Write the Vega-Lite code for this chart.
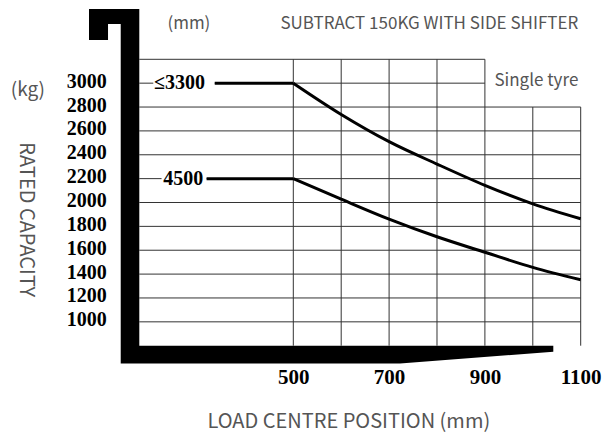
{
  "$schema": "https://vega.github.io/schema/vega-lite/v6.json",
  "autosize": {"type": "none"},
  "width": 441.4,
  "height": 286.4,
  "padding": {"left": 139.3, "top": 59.3, "right": 35.3, "bottom": 100.3},
  "background": "white",
  "config": {
    "view": {"stroke": null},
    "axis": {"grid": false, "domain": false, "ticks": false, "labelOverlap": false, "labelBound": false, "labelFlush": false}
  },
  "datasets": {
    "fork": [
      {"i": 1, "x": 73.5, "y": 3621.5},
      {"i": 2, "x": 178.5, "y": 3621.5},
      {"i": 3, "x": 178.5, "y": 800},
      {"i": 4, "x": 1042.8, "y": 800},
      {"i": 5, "x": 1042.8, "y": 749.7},
      {"i": 6, "x": 722.8, "y": 650.8},
      {"i": 7, "x": 139.7, "y": 650.8},
      {"i": 8, "x": 139.7, "y": 3495.8},
      {"i": 9, "x": 113.2, "y": 3495.8},
      {"i": 10, "x": 113.2, "y": 3361.7},
      {"i": 11, "x": 73.5, "y": 3361.7},
      {"i": 12, "x": 73.5, "y": 3621.5}
    ],
    "hgrid": [
      {"y": 3200, "x1": 178.5, "x2": 900},
      {"y": 3000, "x1": 178.5, "x2": 207.7},
      {"y": 3000, "x1": 336, "x2": 900},
      {"y": 2800, "x1": 178.5, "x2": 1100},
      {"y": 2600, "x1": 178.5, "x2": 1100},
      {"y": 2400, "x1": 178.5, "x2": 1100},
      {"y": 2200, "x1": 178.5, "x2": 225},
      {"y": 2200, "x1": 319, "x2": 1100},
      {"y": 2000, "x1": 178.5, "x2": 1100},
      {"y": 1800, "x1": 178.5, "x2": 1100},
      {"y": 1600, "x1": 178.5, "x2": 1100},
      {"y": 1400, "x1": 178.5, "x2": 1100},
      {"y": 1200, "x1": 178.5, "x2": 1100},
      {"y": 1000, "x1": 178.5, "x2": 1100}
    ],
    "vgrid": [
      {"x": 500, "y1": 800, "y2": 3200},
      {"x": 600, "y1": 800, "y2": 3200},
      {"x": 700, "y1": 800, "y2": 3200},
      {"x": 800, "y1": 800, "y2": 3200},
      {"x": 900, "y1": 800, "y2": 3200},
      {"x": 1000, "y1": 800, "y2": 2800},
      {"x": 1100, "y1": 800, "y2": 2800}
    ],
    "flats": [
      {"series": "≤3300", "x1": 336, "x2": 500, "y": 3000},
      {"series": "4500", "x1": 319, "x2": 500, "y": 2200}
    ],
    "curves": [
      {"series": "≤3300", "x": 500, "y": 3000},
      {"series": "≤3300", "x": 600, "y": 2738},
      {"series": "≤3300", "x": 700, "y": 2510},
      {"series": "≤3300", "x": 800, "y": 2322},
      {"series": "≤3300", "x": 900, "y": 2144},
      {"series": "≤3300", "x": 1000, "y": 1989},
      {"series": "≤3300", "x": 1100, "y": 1864},
      {"series": "4500", "x": 500, "y": 2200},
      {"series": "4500", "x": 600, "y": 2028},
      {"series": "4500", "x": 700, "y": 1861},
      {"series": "4500", "x": 800, "y": 1713},
      {"series": "4500", "x": 900, "y": 1583},
      {"series": "4500", "x": 1000, "y": 1456},
      {"series": "4500", "x": 1100, "y": 1352}
    ],
    "labels": [
      {"label": "≤3300", "x": 209, "y": 3000},
      {"label": "4500", "x": 228.6, "y": 2200}
    ],
    "yticks": [
      {"kg": 1000}, {"kg": 1200}, {"kg": 1400}, {"kg": 1600}, {"kg": 1800}, {"kg": 2000},
      {"kg": 2200}, {"kg": 2400}, {"kg": 2600}, {"kg": 2800}, {"kg": 3000}
    ]
  },
  "layer": [
    {
      "data": {"name": "hgrid"},
      "mark": {"type": "rule", "color": "#333", "strokeWidth": 1},
      "encoding": {
        "x": {
          "field": "x1", "type": "quantitative",
          "scale": {"domain": [178.5, 1100], "nice": false, "zero": false},
          "axis": {
            "values": [500, 700, 900, 1100], "format": "d", "labelOverlap": false,
            "labelFont": "Liberation Serif", "labelFontWeight": "bold", "labelFontSize": 21,
            "labelColor": "#000", "labelBaseline": "middle", "labelPadding": 32, "labelAlign": "center",
            "title": "LOAD CENTRE POSITION (mm)",
            "titleFont": "Noto Sans CJK SC", "titleFontWeight": "normal", "titleFontSize": 20, "titleColor": "#555",
            "titleX": 209, "titleY": 76, "titleAlign": "center", "titleBaseline": "middle"
          }
        },
        "x2": {"field": "x2"},
        "y": {
          "field": "y", "type": "quantitative",
          "scale": {"domain": [800, 3200], "nice": false, "zero": false},
          "axis": {
            "values": [1000, 3000], "labels": false,
            "title": "RATED CAPACITY",
            "titleFont": "Noto Sans CJK SC", "titleFontWeight": "normal", "titleFontSize": 20, "titleColor": "#555",
            "titleAngle": 90, "titleX": -114, "titleY": 160, "titleAlign": "center", "titleBaseline": "middle"
          }
        }
      }
    },
    {
      "data": {"name": "vgrid"},
      "mark": {"type": "rule", "color": "#333", "strokeWidth": 1},
      "encoding": {
        "x": {"field": "x", "type": "quantitative"},
        "y": {"field": "y1", "type": "quantitative"},
        "y2": {"field": "y2"}
      }
    },
    {
      "data": {"name": "fork"},
      "mark": {"type": "line", "filled": true, "color": "#000", "interpolate": "linear"},
      "encoding": {
        "x": {"field": "x", "type": "quantitative"},
        "y": {"field": "y", "type": "quantitative"},
        "order": {"field": "i", "type": "quantitative"}
      }
    },
    {
      "data": {"name": "flats"},
      "mark": {"type": "rule", "color": "#000", "strokeWidth": 3},
      "encoding": {
        "x": {"field": "x1", "type": "quantitative"},
        "x2": {"field": "x2"},
        "y": {"field": "y", "type": "quantitative"}
      }
    },
    {
      "data": {"name": "curves"},
      "mark": {"type": "line", "color": "#000", "strokeWidth": 3, "interpolate": "monotone"},
      "encoding": {
        "x": {"field": "x", "type": "quantitative"},
        "y": {"field": "y", "type": "quantitative"},
        "detail": {"field": "series", "type": "nominal"}
      }
    },
    {
      "data": {"name": "yticks"},
      "mark": {"type": "text", "font": "Liberation Serif", "fontWeight": "bold", "fontSize": 20, "align": "right", "baseline": "middle", "color": "#000", "dx": -32.6, "dy": -1.5},
      "encoding": {
        "x": {"datum": 178.5},
        "y": {"field": "kg", "type": "quantitative"},
        "text": {"field": "kg", "type": "quantitative", "format": "d"}
      }
    },
    {
      "data": {"name": "labels"},
      "mark": {"type": "text", "font": "Liberation Serif", "fontWeight": "bold", "fontSize": 20, "align": "left", "baseline": "middle", "color": "#000"},
      "encoding": {
        "x": {"field": "x", "type": "quantitative"},
        "y": {"field": "y", "type": "quantitative"},
        "text": {"field": "label"}
      }
    },
    {
      "data": {"values": [{}]},
      "mark": {"type": "text", "font": "Noto Sans CJK SC", "fontSize": 17, "align": "center", "baseline": "middle", "color": "#555"},
      "encoding": {
        "x": {"datum": 282},
        "y": {"datum": 3496},
        "text": {"value": "(mm)"}
      }
    },
    {
      "data": {"values": [{}]},
      "mark": {"type": "text", "font": "Noto Sans CJK SC", "fontSize": 17, "align": "right", "baseline": "middle", "color": "#555"},
      "encoding": {
        "x": {"datum": 1095},
        "y": {"datum": 3496},
        "text": {"value": "SUBTRACT 150KG WITH SIDE SHIFTER"}
      }
    },
    {
      "data": {"values": [{}]},
      "mark": {"type": "text", "font": "Noto Sans CJK SC", "fontSize": 17, "align": "right", "baseline": "middle", "color": "#555"},
      "encoding": {
        "x": {"datum": 1095},
        "y": {"datum": 3018},
        "text": {"value": "Single tyre"}
      }
    },
    {
      "data": {"values": [{}]},
      "mark": {"type": "text", "font": "Noto Sans CJK SC", "fontSize": 19, "align": "center", "baseline": "middle", "color": "#555"},
      "encoding": {
        "x": {"datum": -54},
        "y": {"datum": 2943},
        "text": {"value": "(kg)"}
      }
    }
  ]
}
